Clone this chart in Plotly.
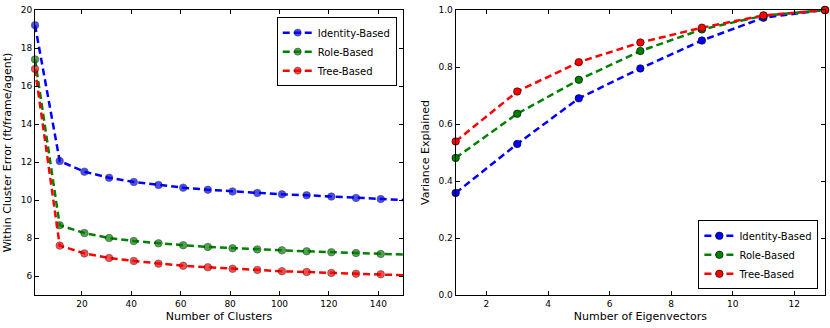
import plotly.graph_objects as go

# Left panel: within-cluster error vs number of clusters
clusters = [1, 11, 21, 31, 41, 51, 61, 71, 81, 91, 101, 111, 121, 131, 141, 150]
identity_err = [19.2, 12.05, 11.49, 11.17, 10.95, 10.79, 10.65, 10.54, 10.45, 10.37,
                10.30, 10.25, 10.18, 10.11, 10.05, 10.0]
role_err = [17.4, 8.67, 8.26, 8.0, 7.84, 7.72, 7.62, 7.53, 7.46, 7.40,
            7.35, 7.30, 7.25, 7.21, 7.16, 7.13]
tree_err = [16.9, 7.6, 7.19, 6.95, 6.79, 6.65, 6.54, 6.46, 6.38, 6.32,
            6.25, 6.21, 6.16, 6.12, 6.09, 6.04]

# Right panel: variance explained vs number of eigenvectors
eigvecs = [1, 3, 5, 7, 9, 11, 13]
identity_var = [0.358, 0.53, 0.69, 0.795, 0.893, 0.973, 1.0]
role_var = [0.481, 0.636, 0.755, 0.856, 0.932, 0.98, 1.0]
tree_var = [0.539, 0.714, 0.817, 0.886, 0.938, 0.981, 1.0]

names = ['Identity-Based', 'Role-Based', 'Tree-Based']
colors = ['#0000ff', '#008000', '#ff0000']

fig = go.Figure()

# last point on the left is a line end only (no marker)
left_sizes = [7.5] * (len(clusters) - 1) + [0]

for name, color, ys in zip(names, colors, [identity_err, role_err, tree_err]):
    fig.add_trace(go.Scatter(x=clusters, y=ys, mode='lines+markers', name=name,
                             line=dict(color=color, width=2.5, dash='7px,4px'),
                             marker=dict(size=left_sizes, color=color,
                                         line=dict(color='black', width=0.6)),
                             xaxis='x', yaxis='y', legend='legend', cliponaxis=False))

for name, color, ys in zip(names, colors, [identity_var, role_var, tree_var]):
    fig.add_trace(go.Scatter(x=eigvecs, y=ys, mode='lines+markers', name=name,
                             line=dict(color=color, width=2.5, dash='7px,4px'),
                             marker=dict(size=7.5, color=color,
                                         line=dict(color='black', width=0.6)),
                             xaxis='x2', yaxis='y2', legend='legend2', cliponaxis=False))

axis_common = dict(showgrid=False, zeroline=False, showline=True, linecolor='black',
                   linewidth=1, mirror='ticks', ticks='inside', ticklen=4,
                   tickcolor='black', tickfont=dict(size=9, color='black'),
                   ticklabeloverflow='allow')

legend_common = dict(bgcolor='white', bordercolor='black', borderwidth=1,
                     font=dict(size=10, color='black', family='DejaVu Sans'),
                     xanchor='right', itemwidth=30, tracegroupgap=0)

fig.update_layout(
    width=830, height=328,
    margin=dict(l=0, r=0, t=10, b=33),
    paper_bgcolor='white', plot_bgcolor='white',
    font=dict(family='DejaVu Sans', size=9, color='black'),
    xaxis=dict(domain=[0.0422, 0.4855], range=[1, 150], tickvals=list(range(20, 141, 20)),
               title=dict(text='Number of Clusters', standoff=4), **axis_common),
    yaxis=dict(domain=[0, 1], range=[5, 20], tickvals=list(range(6, 21, 2)),
               title=dict(text='Within Cluster Error (ft/frame/agent)', standoff=6),
               **axis_common),
    xaxis2=dict(domain=[0.549, 0.994], range=[1, 13], tickvals=list(range(2, 13, 2)),
                anchor='y2', title=dict(text='Number of Eigenvectors', standoff=4),
                **axis_common),
    yaxis2=dict(domain=[0, 1], range=[0, 1], tickvals=[0, 0.2, 0.4, 0.6, 0.8, 1.0],
                tickformat='.1f', anchor='x2',
                title=dict(text='Variance Explained', standoff=6), **axis_common),
    legend=dict(x=0.478, y=0.975, yanchor='top', **legend_common),
    legend2=dict(x=0.986, y=0.02, yanchor='bottom', **legend_common),
)

# drop the default page margin so the 830x328 figure fills the window exactly
fig.write_html("out.html", config={'displayModeBar': False},
               post_script="document.body.style.margin='0';")
